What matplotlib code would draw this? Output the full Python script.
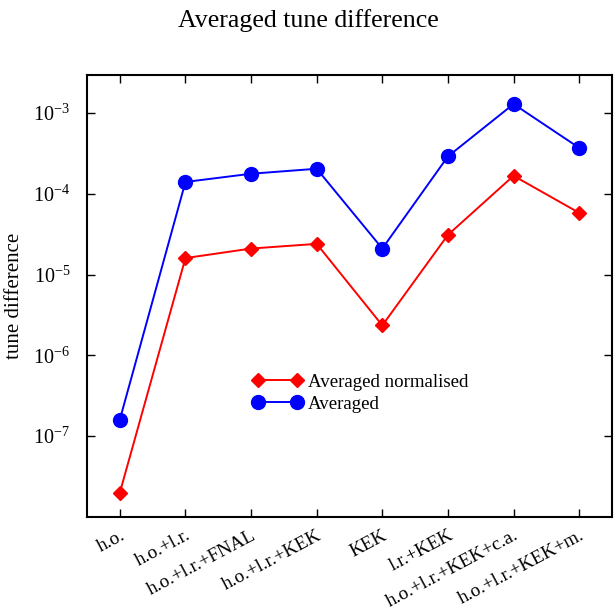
import numpy as np
import matplotlib.pyplot as plt

plt.rc('font', family='Liberation Serif')
plt.rc('mathtext', fontset='stix')

cases = ['h.o.', 'h.o.+l.r.', 'h.o.+l.r.+FNAL', 'h.o.+l.r.+KEK', 'KEK',
         'l.r.+KEK', 'h.o.+l.r.+KEK+c.a.', 'h.o.+l.r.+KEK+m.']
averaged = [1.6e-7, 1.4e-4, 1.77e-4, 2.04e-4, 2.1e-5, 2.9e-4, 1.29e-3, 3.7e-4]
averaged_norm = [2.0e-8, 1.6e-5, 2.1e-5, 2.4e-5, 2.35e-6, 3.1e-5, 1.67e-4, 5.8e-5]

x = np.arange(len(cases))

fig = plt.figure(figsize=(6.16, 6.14), dpi=100)
ax = fig.add_axes([87/616, 1 - 517/614, (612-87)/616, (517-75)/614])

ax.plot(x, averaged_norm, '-', color='red', marker='D', markersize=7, linewidth=1.4,
        label='Averaged normalised')
ax.plot(x, averaged, '-', color='blue', marker='o', markersize=10, linewidth=1.4,
        label='Averaged')

ax.set_yscale('log')
ax.set_xlim(-0.5, 7.5)
ax.set_ylim(1e-8, 2.95e-3)
ax.set_yticks([1e-7, 1e-6, 1e-5, 1e-4, 1e-3])
ax.minorticks_off()
ax.set_xticks(x)
ax.set_xticklabels(cases, rotation=28, ha='right', rotation_mode='anchor')
ax.tick_params(direction='in', top=True, right=True, length=6, width=1)
ax.tick_params(axis='x', pad=7, labelsize=13.8)
ax.tick_params(axis='y', pad=12, labelsize=14.5)
for s in ax.spines.values():
    s.set_linewidth(1.5)

ax.set_ylabel('tune difference', fontsize=15)
ax.yaxis.set_label_coords(-0.12, 0.5)
fig.suptitle('Averaged tune difference', fontsize=18.6, y=0.985)

ax.legend(loc='center left', bbox_to_anchor=(243/616, 1 - 393/614), bbox_transform=fig.transFigure,
          frameon=False, fontsize=13.6, numpoints=2, handlelength=2.65, handletextpad=0.3,
          labelspacing=0.25, borderpad=0)

fig.savefig('out.png', dpi=100)
